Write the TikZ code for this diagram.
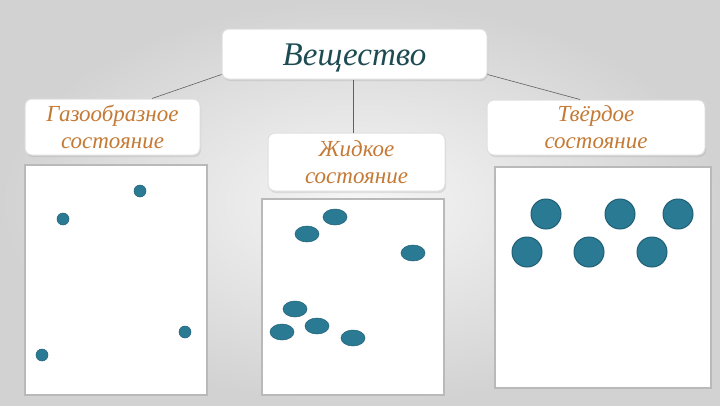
\documentclass[tikz,border=0pt]{standalone}
\usepackage{fontspec}
\setmainfont{Liberation Serif}
\usetikzlibrary{shadows,calc}
\definecolor{dotc}{HTML}{2B7A93}
\definecolor{dotd}{HTML}{1F5F75}
\definecolor{titlec}{HTML}{1D4B52}
\definecolor{labelc}{HTML}{C47A35}
\definecolor{bgin}{HTML}{F6F6F6}
\definecolor{bgout}{HTML}{D2D2D2}
\begin{document}
\begin{tikzpicture}[x=1pt,y=-1pt,
  lbox/.style={draw=gray!25, fill=white, rounded corners=7pt, line width=1pt,
    drop shadow={opacity=0.18, shadow xshift=1pt, shadow yshift=-2pt},
    align=center, inner sep=0pt},
  lbl/.style={lbox, text=labelc, font=\itshape\fontsize{23}{27}\selectfont},
  panel/.style={draw=gray!55, fill=white, line width=1.3pt},
  conn/.style={draw=gray!75!black, line width=0.6pt},
  gdot/.style={fill=dotc, draw=dotd, line width=0.5pt}]
\useasboundingbox (0,0) rectangle (720,405);
\shade[inner color=bgin, outer color=bgout] (0,0) rectangle (720,405);

% panels
\draw[panel] (25,165) rectangle (207,395);
\draw[panel] (262,199) rectangle (444,395);
\draw[panel] (495,167) rectangle (711,388);

% boxes
\node[lbox, minimum width=265, minimum height=50, text=titlec, text height=29pt, text depth=7pt,
  font=\itshape\fontsize{33}{38}\selectfont] (top) at (354.5,54) {Вещество};
\node[lbl, minimum width=175, minimum height=56] (gas) at (112.5,127) {Газообразное\\состояние};
\node[lbl, minimum width=177, minimum height=58] (liq) at (356.5,162) {Жидкое\\состояние};
\node[lbl, minimum width=218, minimum height=55] (sol) at (596,127.5) {Твёрдое\\состояние};

% connectors
\draw[conn] ($(top.south west)+(0,-5)$) -- ($(gas.north)+(39.5,0)$);
\draw[conn] ($(top.south east)+(0,-5)$) -- ($(sol.north)+(-16,0)$);
\draw[conn] ($(top.south)+(-1.5,0)$) -- ($(top.south |- liq.north)+(-1.5,0)$);

% gas particles
\foreach \p in {(140,191),(63,219),(185,332),(42,355)}
  \fill[gdot] \p circle (6);

% liquid particles
\foreach \p in {(335,217),(307,234),(413,253),(295,309),(317,326),(282,332),(353,338)}
  \fill[gdot] \p ellipse (12 and 8);

% solid particles
\foreach \p in {(546,214),(620,214),(678,214),(527,252),(589,252),(652,252)}
  \filldraw[gdot, line width=1pt] \p circle (15);
\end{tikzpicture}
\end{document}
